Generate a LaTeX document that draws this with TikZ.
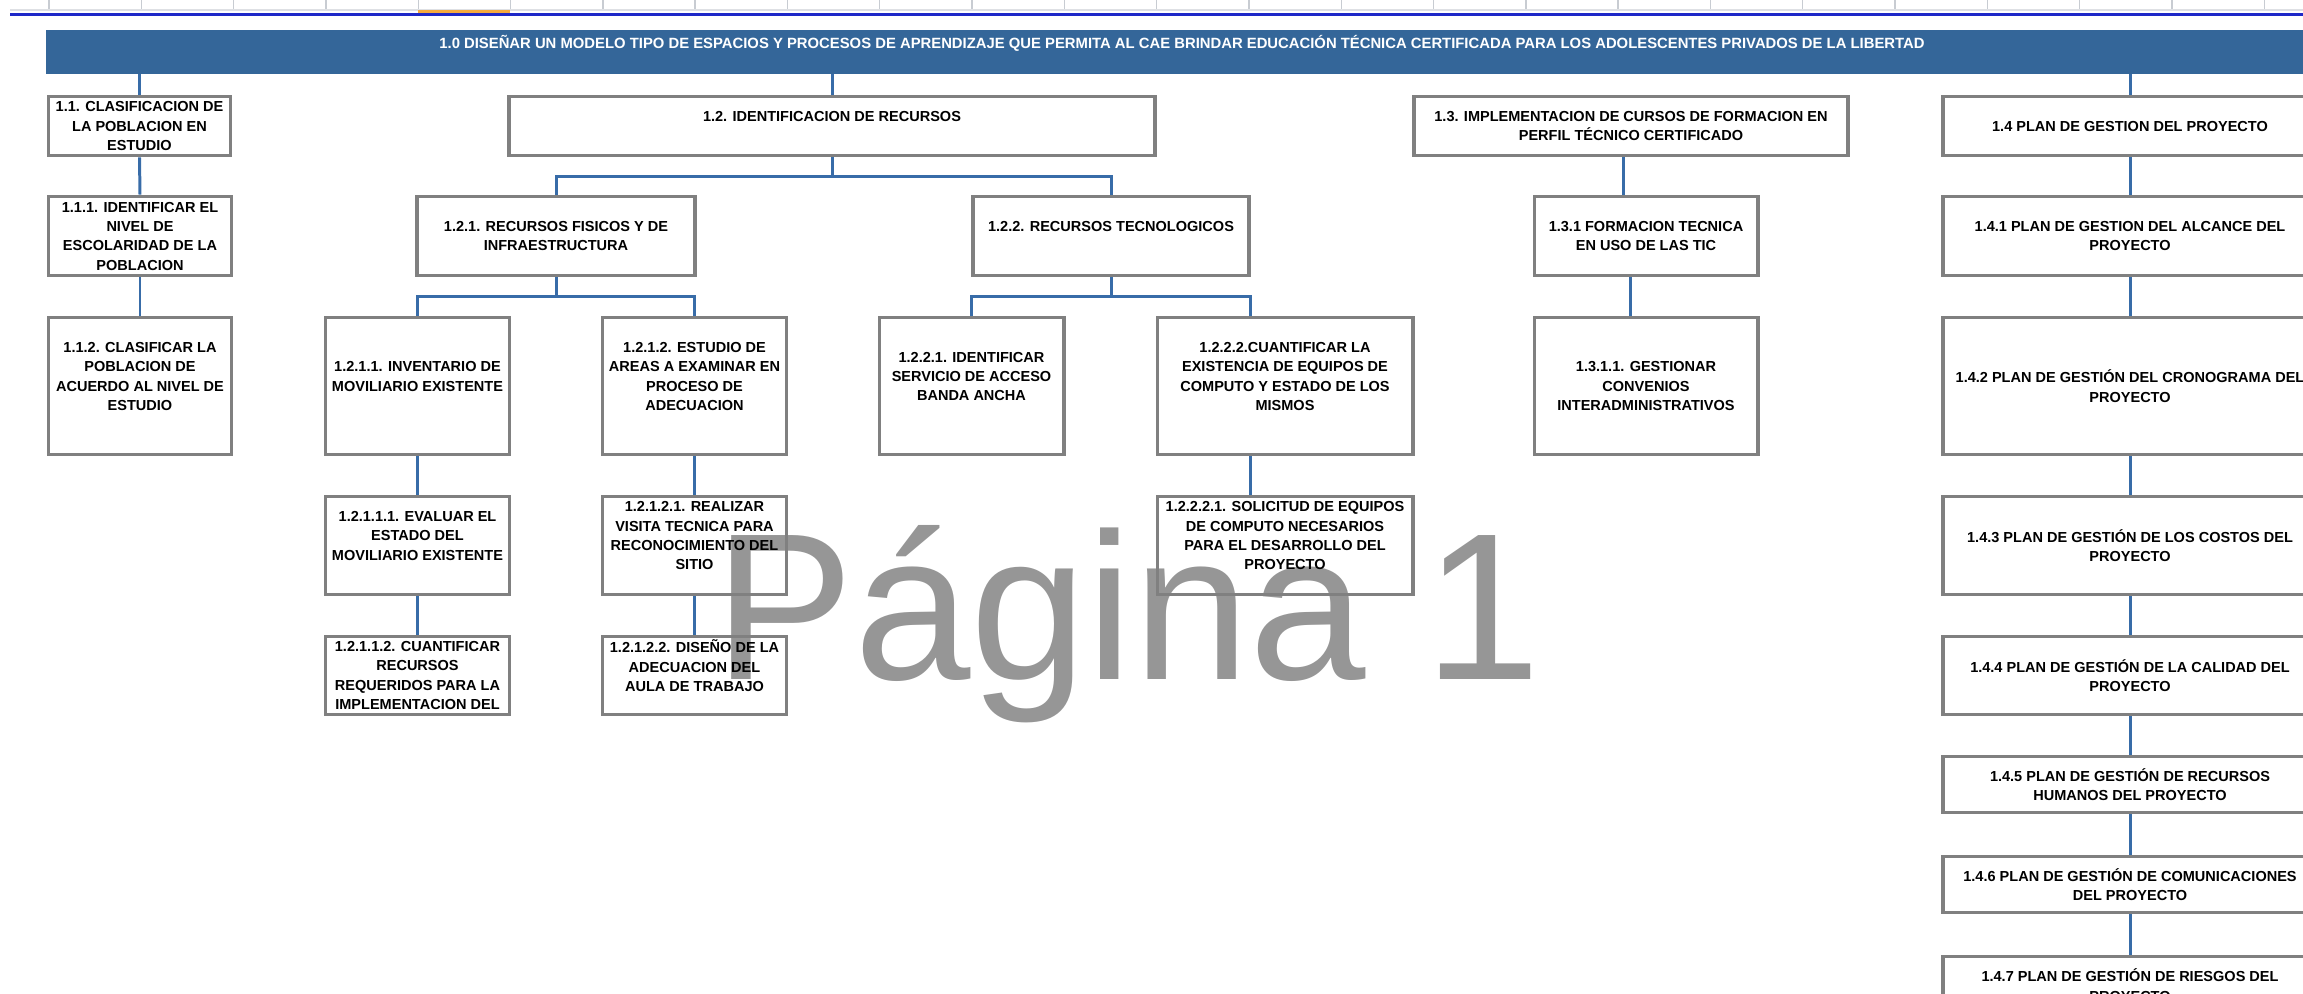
\documentclass[tikz,border=0pt]{standalone}
\usepackage{fontspec}
\setmainfont{Liberation Sans}
\usetikzlibrary{calc}
\definecolor{headcolor}{RGB}{52,102,153}
\definecolor{linkcolor}{RGB}{56,108,168}
\definecolor{boxcolor}{RGB}{128,128,128}
\definecolor{markcolor}{RGB}{150,150,150}
\definecolor{tabcolor}{RGB}{200,204,210}
\definecolor{rulecolor}{RGB}{30,40,200}
\definecolor{tabselcolor}{RGB}{245,170,60}
\newcommand{\wbsfont}{\fontsize{4.13}{5.5}\selectfont\bfseries}
\newcommand{\headfont}{\fontsize{4.22}{5.5}\selectfont\bfseries}

\begin{document}
\begin{tikzpicture}[
    x=0.01cm, y=-0.01cm,
    wbsbox/.style={rectangle, draw=boxcolor, line width=1.1pt, inner sep=0pt, align=center, font=\wbsfont},
    headbox/.style={rectangle, fill=headcolor, inner sep=0pt, align=center, font=\headfont, text=white},
    link/.style={draw=linkcolor, line width=0.85pt}
]
\useasboundingbox (0,0) rectangle (2303,993);
\clip (0,0) rectangle (2303,993);

% Sheet tabs
\foreach \k in {0,...,24} \draw[tabcolor, line width=0.4pt] ({49+92.3*\k},0) -- ++(0,11);
\draw[tabcolor!60] (10,10) -- (2303,10);
\fill[tabselcolor] (418,10) rectangle (510,13);
\draw[rulecolor, line width=0.6pt] (10,14.5) -- (2303,14.5);

% Watermark
\node[font=\fontsize{59.5}{59.5}\selectfont, text=markcolor, anchor=base west, inner sep=0pt] (mark) at (714,679) {Página 1};

% Header
\node[headbox, minimum width=22.70cm, minimum height=0.43cm] (h10) at (1182,52) {1.0 DISEÑAR UN MODELO TIPO DE ESPACIOS Y PROCESOS DE APRENDIZAJE QUE PERMITA AL CAE BRINDAR EDUCACIÓN TÉCNICA CERTIFICADA PARA LOS ADOLESCENTES PRIVADOS DE LA LIBERTAD\\\mbox{}};

% Level 1
\node[wbsbox, minimum width=1.82cm, minimum height=0.59cm] (n11) at (139.5,126) {1.1. CLASIFICACION DE\\LA POBLACION EN\\ESTUDIO};
\node[wbsbox, minimum width=6.45cm, minimum height=0.59cm] (n12) at (832,126) {1.2. IDENTIFICACION DE RECURSOS\\\mbox{}};
\node[wbsbox, minimum width=4.33cm, minimum height=0.59cm] (n13) at (1631,126) {1.3. IMPLEMENTACION DE CURSOS DE FORMACION EN\\PERFIL TÉCNICO CERTIFICADO};
\node[wbsbox, minimum width=3.73cm, minimum height=0.59cm] (n14) at (2130,126) {1.4 PLAN DE GESTION DEL PROYECTO};

% Level 2
\node[wbsbox, minimum width=1.83cm, minimum height=0.79cm] (n111) at (140,236) {1.1.1. IDENTIFICAR EL\\NIVEL DE\\ESCOLARIDAD DE LA\\POBLACION};
\node[wbsbox, minimum width=2.77cm, minimum height=0.79cm] (n121) at (556,236) {1.2.1. RECURSOS FISICOS Y DE\\INFRAESTRUCTURA};
\node[wbsbox, minimum width=2.75cm, minimum height=0.79cm] (n122) at (1111,236) {1.2.2. RECURSOS TECNOLOGICOS\\\mbox{}};
\node[wbsbox, minimum width=2.23cm, minimum height=0.79cm] (n131) at (1646,236) {1.3.1 FORMACION TECNICA\\EN USO DE LAS TIC};
\node[wbsbox, minimum width=3.73cm, minimum height=0.79cm] (n141) at (2130,236) {1.4.1 PLAN DE GESTION DEL ALCANCE DEL\\PROYECTO};

% Level 3
\node[wbsbox, minimum width=1.83cm, minimum height=1.37cm] (n112) at (140,386) {1.1.2. CLASIFICAR LA\\POBLACION DE\\ACUERDO AL NIVEL DE\\ESTUDIO\\\mbox{}};
\node[wbsbox, minimum width=1.84cm, minimum height=1.37cm] (n1211) at (417.5,386) {1.2.1.1. INVENTARIO DE\\MOVILIARIO EXISTENTE\\\mbox{}};
\node[wbsbox, minimum width=1.84cm, minimum height=1.37cm] (n1212) at (694.5,386) {1.2.1.2. ESTUDIO DE\\AREAS A EXAMINAR EN\\PROCESO DE\\ADECUACION\\\mbox{}};
\node[wbsbox, minimum width=1.84cm, minimum height=1.37cm] (n1221) at (971.5,386) {1.2.2.1. IDENTIFICAR\\SERVICIO DE ACCESO\\BANDA ANCHA\\\mbox{}};
\node[wbsbox, minimum width=2.55cm, minimum height=1.37cm] (n1222) at (1285,386) {1.2.2.2.CUANTIFICAR LA\\EXISTENCIA DE EQUIPOS DE\\COMPUTO Y ESTADO DE LOS\\MISMOS\\\mbox{}};
\node[wbsbox, minimum width=2.23cm, minimum height=1.37cm] (n1311) at (1646,386) {1.3.1.1. GESTIONAR\\CONVENIOS\\INTERADMINISTRATIVOS};
\node[wbsbox, minimum width=3.73cm, minimum height=1.37cm] (n142) at (2130,386) {1.4.2 PLAN DE GESTIÓN DEL CRONOGRAMA DEL\\PROYECTO};

% Level 4
\node[wbsbox, minimum width=1.84cm, minimum height=0.98cm] (n12111) at (417.5,545.5) {1.2.1.1.1. EVALUAR EL\\ESTADO DEL\\MOVILIARIO EXISTENTE\\\mbox{}};
\node[wbsbox, minimum width=1.84cm, minimum height=0.98cm] (n12121) at (694.5,545.5) {1.2.1.2.1. REALIZAR\\VISITA TECNICA PARA\\RECONOCIMIENTO DEL\\SITIO\\\mbox{}};
\node[wbsbox, minimum width=2.55cm, minimum height=0.98cm] (n12221) at (1285,545.5) {1.2.2.2.1. SOLICITUD DE EQUIPOS\\DE COMPUTO NECESARIOS\\PARA EL DESARROLLO DEL\\PROYECTO\\\mbox{}};
\node[wbsbox, minimum width=3.73cm, minimum height=0.98cm] (n143) at (2130,545.5) {1.4.3 PLAN DE GESTIÓN DE LOS COSTOS DEL\\PROYECTO};

% Level 5
\node[wbsbox, minimum width=1.84cm, minimum height=0.78cm] (n12112) at (417.5,675.5) {1.2.1.1.2. CUANTIFICAR\\RECURSOS\\REQUERIDOS PARA LA\\IMPLEMENTACION DEL};
\node[wbsbox, minimum width=1.84cm, minimum height=0.78cm] (n12122) at (694.5,675.5) {1.2.1.2.2. DISEÑO DE LA\\ADECUACION DEL\\AULA DE TRABAJO\\\mbox{}};
\node[wbsbox, minimum width=3.73cm, minimum height=0.78cm] (n144) at (2130,675.5) {1.4.4 PLAN DE GESTIÓN DE LA CALIDAD DEL\\PROYECTO};

% Plan de gestion column
\node[wbsbox, minimum width=3.73cm, minimum height=0.56cm] (n145) at (2130,784.5) {1.4.5 PLAN DE GESTIÓN DE RECURSOS\\HUMANOS DEL PROYECTO};
\node[wbsbox, minimum width=3.73cm, minimum height=0.56cm] (n146) at (2130,884.5) {1.4.6 PLAN DE GESTIÓN DE COMUNICACIONES\\DEL PROYECTO};
\node[wbsbox, minimum width=3.73cm, minimum height=0.57cm] (n147) at (2130,985) {1.4.7 PLAN DE GESTIÓN DE RIESGOS DEL\\PROYECTO};

% Links - header
\draw[link] (h10.south -| n11.north) -- (n11.north);
\draw[link] (h10.south -| n12.north) -- (n12.north);
\draw[link] (h10.south -| n14.north) -- (n14.north);

% Links - 1.1
\draw[link] (n11.south) -- (n111.north);
\draw[link] (n111.south) -- (n112.north);

% Links - 1.2
\draw[link] (n12.south) -- ++(0,19) -| (n121.north);
\draw[link] (n12.south) -- ++(0,19) -| (n122.north);
\draw[link] (n121.south) -- ++(0,19) -| (n1211.north);
\draw[link] (n121.south) -- ++(0,19) -| (n1212.north);
\draw[link] (n122.south) -- ++(0,19) -| (n1221.north);
\draw[link] (n122.south) -- ++(0,19) -| (n1222.north -| n122.east);
\draw[link] (n1211.south) -- (n12111.north);
\draw[link] (n12111.south) -- (n12112.north);
\draw[link] (n1212.south) -- (n12121.north);
\draw[link] (n12121.south) -- (n12122.north);
\draw[link] (n1222.south -| n122.east) -- (n12221.north -| n122.east);

% Links - 1.3
\coordinate (c13) at ($(n131.north)+(-23,0)$);
\coordinate (c131) at ($(n1311.north)+(-16,0)$);
\draw[link] (c13 |- n13.south) -- (c13);
\draw[link] (c131 |- n131.south) -- (c131);

% Links - 1.4
\draw[link] (n14) -- (n141);
\draw[link] (n141) -- (n142);
\draw[link] (n142) -- (n143);
\draw[link] (n143) -- (n144);
\draw[link] (n144) -- (n145);
\draw[link] (n145) -- (n146);
\draw[link] (n146) -- (n147);

\end{tikzpicture}
\end{document}
